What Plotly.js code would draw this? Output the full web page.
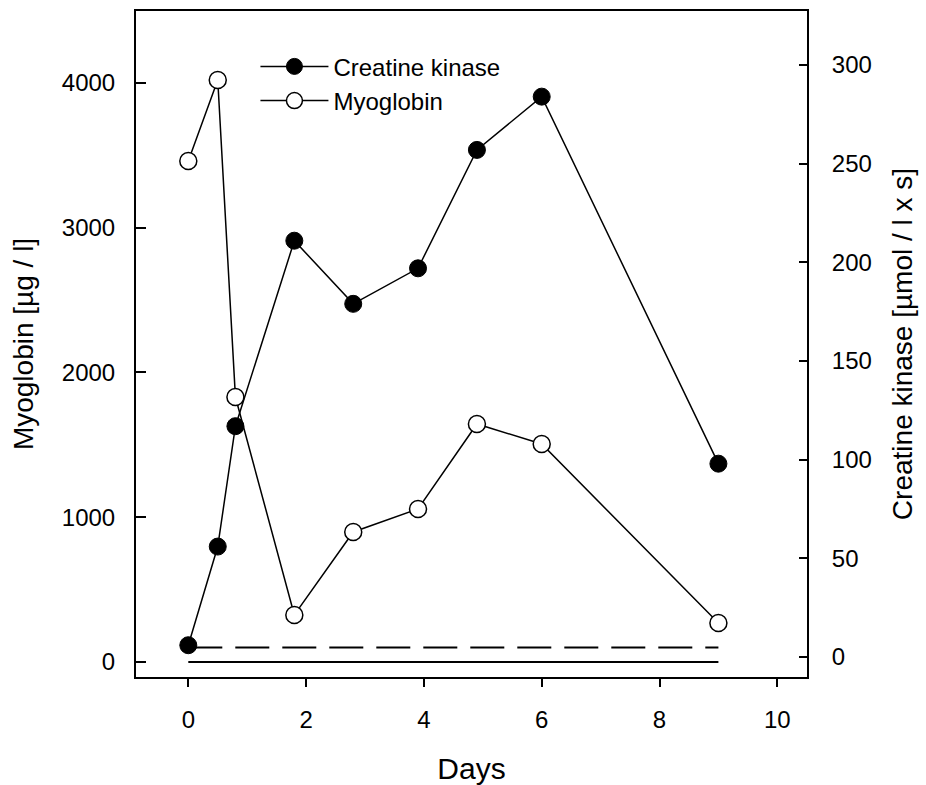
<!DOCTYPE html>
<html>
<head>
<meta charset="utf-8">
<script src="https://cdn.plot.ly/plotly-3.0.1.min.js"></script>
<style>html,body{margin:0;padding:0;background:#fff;}#chart{width:926px;height:785px;}</style>
</head>
<body>
<div id="chart"></div>
<script>
// Data
var days = [0, 0.5, 0.8, 1.8, 2.8, 3.9, 4.9, 6, 9];
var creatineKinase = [6, 56, 117, 211, 179, 197, 257, 284, 98];
var myoglobin = [3460, 4020, 1830, 325, 898, 1057, 1644, 1506, 269];
var refDays = [0, 9];
var refSolid = [0, 0];
var refDashed = [100, 100];

var font = "'Liberation Sans', Arial, sans-serif";

var traces = [
  {x: refDays, y: refSolid, mode: 'lines', line: {color: '#000', width: 2}, showlegend: false, hoverinfo: 'skip'},
  {x: refDays, y: refDashed, mode: 'lines', line: {color: '#000', width: 2, dash: '34px,13px'}, showlegend: false, hoverinfo: 'skip'},
  {x: days, y: creatineKinase, yaxis: 'y2', name: 'Creatine kinase', mode: 'lines+markers',
   line: {color: '#000', width: 1.5},
   marker: {symbol: 'circle', size: 17, color: '#000', line: {color: '#000', width: 1}}},
  {x: days, y: myoglobin, name: 'Myoglobin', mode: 'lines+markers',
   line: {color: '#000', width: 1.5},
   marker: {symbol: 'circle', size: 17, color: '#fff', line: {color: '#000', width: 1.5}}}
];

var layout = {
  width: 926, height: 785,
  margin: {l: 136, r: 119, t: 11, b: 108},
  paper_bgcolor: '#fff', plot_bgcolor: '#fff',
  font: {family: font, color: '#000', size: 24},
  showlegend: true,
  legend: {x: 0.178, y: 0.95, xanchor: 'left', yanchor: 'top', bgcolor: 'rgba(0,0,0,0)',
           itemwidth: 68, font: {size: 24, family: font, color: '#000'}, tracegroupgap: 0, traceorder: 'normal'},
  xaxis: {
    range: [-0.888, 10.504], tickvals: [0, 2, 4, 6, 8, 10],
    showgrid: false, zeroline: false, showline: true, linecolor: '#000', linewidth: 2, mirror: true,
    ticks: 'outside', ticklen: 8, tickwidth: 2, tickcolor: '#000', ticklabelstandoff: 12,
    tickfont: {size: 24, family: font, color: '#000'},
    title: {text: 'Days', font: {size: 30, family: font, color: '#000'}, standoff: 26}
  },
  yaxis: {
    range: [-103.6, 4496], tickvals: [0, 1000, 2000, 3000, 4000],
    showgrid: false, zeroline: false, showline: true, linecolor: '#000', linewidth: 2,
    ticks: 'inside', ticklen: 10, tickwidth: 2, tickcolor: '#000', ticklabelstandoff: 14,
    tickfont: {size: 24, family: font, color: '#000'},
    title: {text: 'Myoglobin [µg / l]', font: {size: 28, family: font, color: '#000'}, standoff: 20}
  },
  yaxis2: {
    overlaying: 'y', side: 'right',
    range: [-10.1, 327.4], tickvals: [0, 50, 100, 150, 200, 250, 300],
    showgrid: false, zeroline: false, showline: true, linecolor: '#000', linewidth: 2,
    ticks: 'inside', ticklen: 8, tickwidth: 2, tickcolor: '#000', ticklabelstandoff: 18,
    tickfont: {size: 24, family: font, color: '#000'},
    title: {text: 'Creatine kinase [µmol / l x s]', font: {size: 28, family: font, color: '#000'}, standoff: 22}
  }
};

Plotly.newPlot('chart', traces, layout, {displayModeBar: false, staticPlot: true});
</script>
</body>
</html>
